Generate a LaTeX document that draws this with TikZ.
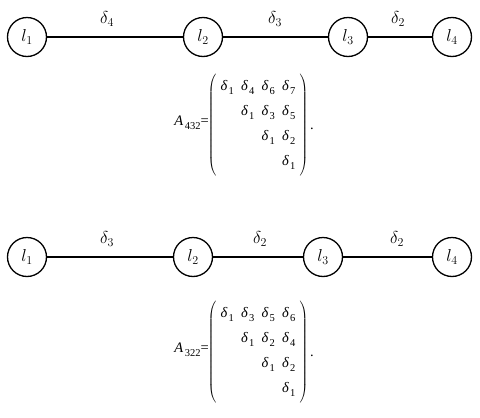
\documentclass[tikz,border=0pt]{standalone}
\usepackage[no-math]{fontspec}
\newfontfamily\tnr{Liberation Serif}
\usetikzlibrary{matrix}
\newcommand\dd[1]{\textit{δ}\kern1pt\raisebox{-4pt}{\fontsize{10.5}{12}\selectfont #1}}
\begin{document}
\begin{tikzpicture}[x=1pt,y=-1pt,
  vtx/.style={circle,draw,line width=1.3pt,minimum size=39pt,inner sep=0pt,font=\fontsize{18}{20}\selectfont},
  edge/.style={line width=1.3pt},
  elab/.style={font=\fontsize{18}{20}\selectfont},
  mat/.style={matrix of nodes,nodes={font=\tnr\fontsize{14.5}{17}\selectfont,inner sep=1pt},
    row sep={25pt,between origins},column sep={20.5pt,between origins},
    left delimiter=(,right delimiter=),inner xsep=2pt,inner ysep=7pt},
  mtxt/.style={font=\tnr\fontsize{14.5}{17}\selectfont,inner sep=0pt}]
\useasboundingbox (0,0) rectangle (480,418);
% top graph
\node[vtx] (a1) at (27,37) {$l_1$};
\node[vtx] (a2) at (203,37) {$l_2$};
\node[vtx] (a3) at (348,37) {$l_3$};
\node[vtx] (a4) at (452,37) {$l_4$};
\draw[edge] (a1) -- (a2);
\draw[edge] (a2) -- (a3);
\draw[edge] (a3) -- (a4);
\node[elab] (d1) at (107,19) {$\delta_4$};
\node[elab] (d2) at (275,19) {$\delta_3$};
\node[elab] (d3) at (398,19) {$\delta_2$};
% top matrix
\matrix[mat] (m1) at (258,125) {
\dd1 & \dd4 & \dd6 & \dd7\\
 & \dd1 & \dd3 & \dd5\\
 & & \dd1 & \dd2\\
 & & & \dd1\\
};
\node[mtxt,anchor=base east] (e1) at (209,125) {\textit{A}\kern1.5pt\raisebox{-4pt}{\fontsize{10.5}{12}\selectfont 432}=};
\node[mtxt,anchor=base west] (p1) at (310,129) {.};
% bottom graph
\node[vtx] (b1) at (27,257) {$l_1$};
\node[vtx] (b2) at (193,257) {$l_2$};
\node[vtx] (b3) at (323,257) {$l_3$};
\node[vtx] (b4) at (452,257) {$l_4$};
\draw[edge] (b1) -- (b2);
\draw[edge] (b2) -- (b3);
\draw[edge] (b3) -- (b4);
\node[elab] (f1) at (107,239) {$\delta_3$};
\node[elab] (f2) at (260,239) {$\delta_2$};
\node[elab] (f3) at (397,239) {$\delta_2$};
% bottom matrix
\matrix[mat] (m2) at (258,352) {
\dd1 & \dd3 & \dd5 & \dd6\\
 & \dd1 & \dd2 & \dd4\\
 & & \dd1 & \dd2\\
 & & & \dd1\\
};
\node[mtxt,anchor=base east] (e2) at (209,352) {\textit{A}\kern1.5pt\raisebox{-4pt}{\fontsize{10.5}{12}\selectfont 322}=};
\node[mtxt,anchor=base west] (p2) at (310,356) {.};
\end{tikzpicture}
\end{document}
